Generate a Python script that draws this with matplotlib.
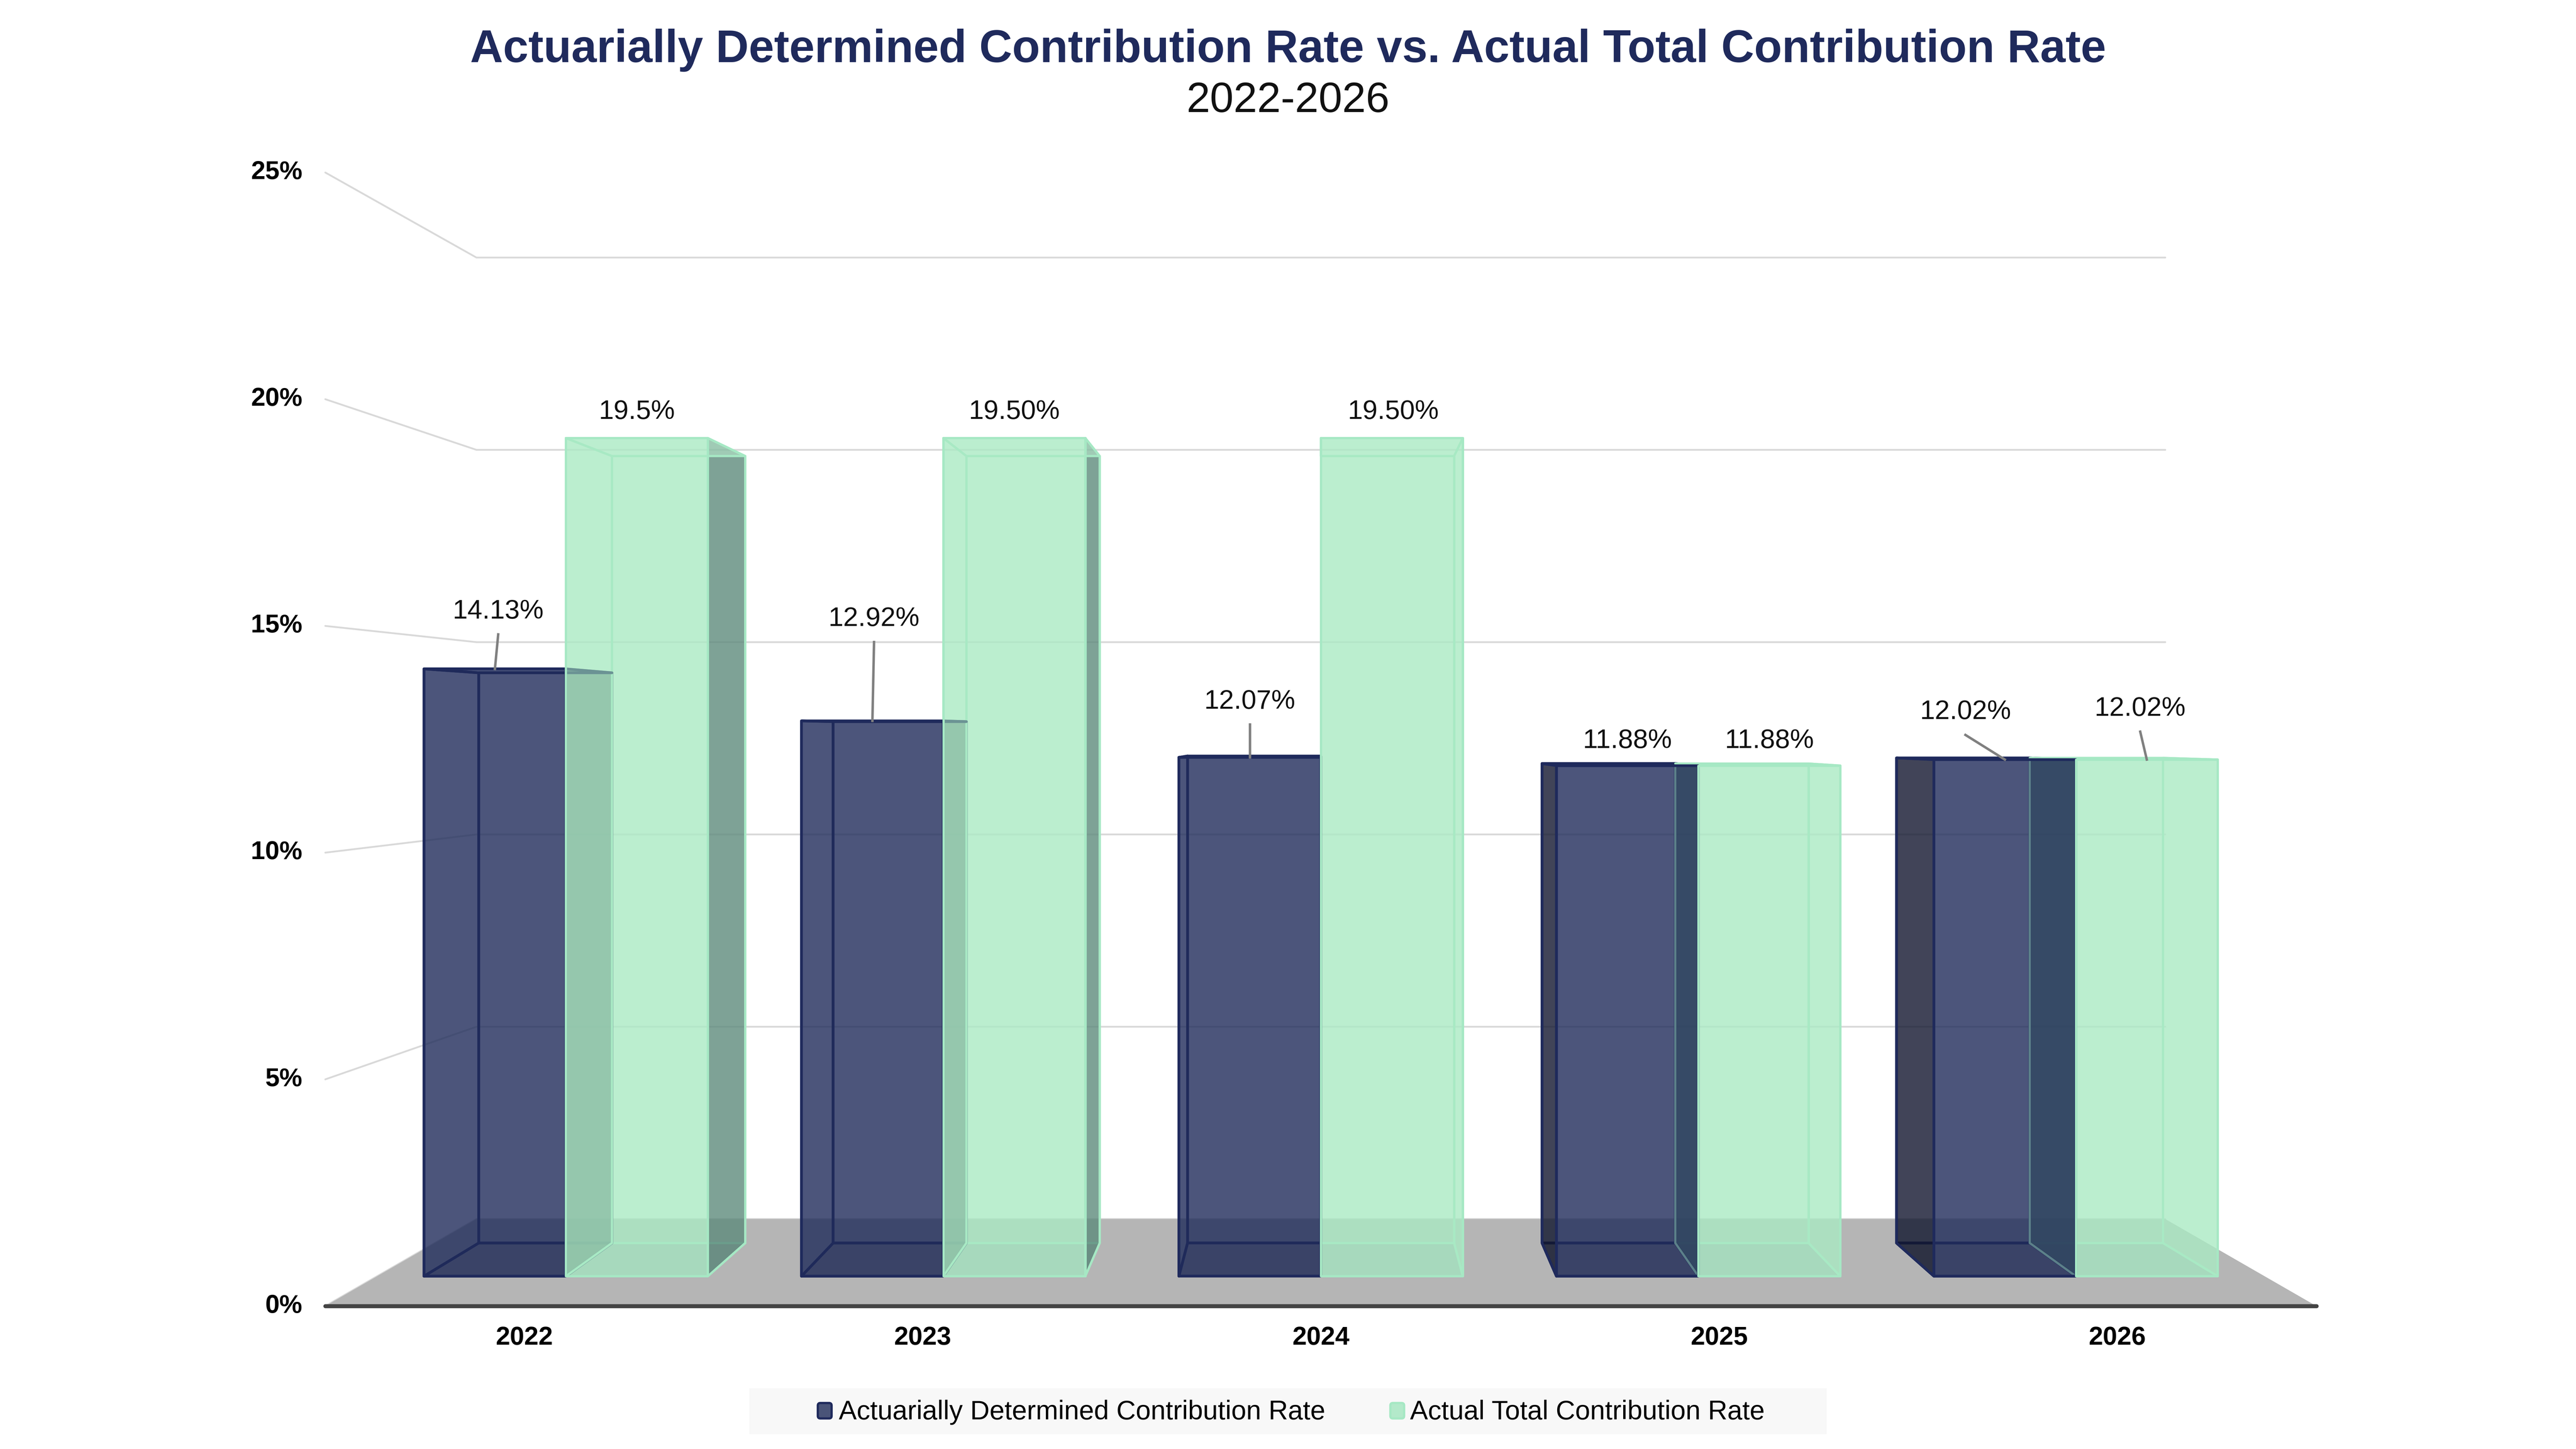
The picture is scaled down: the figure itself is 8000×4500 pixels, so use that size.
import matplotlib
matplotlib.use("Agg")
import matplotlib.pyplot as plt
from matplotlib.patches import Polygon, Rectangle, FancyBboxPatch

plt.rcParams['font.family'] = ['Liberation Sans', 'DejaVu Sans']

# ---- data ----
years = ["2022", "2023", "2024", "2025", "2026"]
adc_rate = [14.13, 12.92, 12.07, 11.88, 12.02]
actual_rate = [19.50, 19.50, 19.50, 11.88, 12.02]
adc_text = ["14.13%", "12.92%", "12.07%", "11.88%", "12.02%"]
actual_text = ["19.5%", "19.50%", "19.50%", "11.88%", "12.02%"]
y_ticks = [0, 5, 10, 15, 20, 25]
series_names = ["Actuarially Determined Contribution Rate", "Actual Total Contribution Rate"]

# ---- layout: canvas units 1568 x 882, y grows downwards ----
W, H = 1568, 882
LEFT, RIGHT, FLOOR = 198, 1410, 795
PX_PER_PCT = 27.6
VANISH = (804, 446)
DEPTH_K = 0.179          # perspective shrink per unit depth
Z_FRONT, Z_BACK = 0.307, 0.69
BAR_W = 0.376            # in category units
ALPHA = 0.55

# label nudges (dx, dy) from the bar's front-top centre
adc_nudge = [(2, -35), (1, -62), (0, -34), (0, -15), (-24, -29)]
actual_nudge = [(0, -16), (0, -16), (1, -16), (0, -15), (-4, -31)]

# face colours per series (rgb 0-255)
STYLE = [
    dict(base=(31, 43, 90), side=(10, 12, 26), bottom=(17, 28, 70), edge="#1f2a5c",
         legend_fill="#4a5478", lw=1.2),
    dict(base=(171, 234, 196), side=(60, 96, 92), bottom=(151, 213, 184), edge="#a6e8c4",
         legend_fill="#b3e9ca", lw=1.0),
]


def rgba(c, a=ALPHA):
    return (c[0] / 255, c[1] / 255, c[2] / 255, a)


def project(c, v, z):
    # category position c, value v (%), depth z (0 front .. 1 back) -> canvas
    xf = LEFT + (c + 0.5) * (RIGHT - LEFT) / len(years)
    yf = FLOOR - v * PX_PER_PCT
    s = 1.0 / (1.0 + DEPTH_K * z)
    return (VANISH[0] + s * (xf - VANISH[0]), VANISH[1] + s * (yf - VANISH[1]))


fig = plt.figure(figsize=(16, 9), dpi=500)
ax = fig.add_axes([0, 0, 1, 1])
ax.set_xlim(0, W)
ax.set_ylim(H, 0)
ax.axis("off")

n = len(years)

# ---- walls: gridlines on side wall and back wall ----
for t in y_ticks:
    p0 = project(-0.5, t, 0)
    p1 = project(-0.5, t, 1)
    p2 = project(n - 0.5, t, 1)
    ax.plot([p0[0], p1[0], p2[0]], [p0[1], p1[1], p2[1]], color="#d9d9d9", lw=0.8,
            zorder=1, solid_capstyle="round")
    ax.text(LEFT - 14, p0[1], f"{t}%", ha="right", va="center", fontsize=11.5,
            fontweight="bold", color="#000000")

# ---- floor ----
floor = [project(-0.5, 0, 0), project(n - 0.5, 0, 0), project(n - 0.5, 0, 1), project(-0.5, 0, 1)]
ax.add_patch(Polygon(floor, closed=True, fc="#b5b5b5", ec="none", zorder=2))
ax.plot([floor[0][0], floor[1][0]], [floor[0][1], floor[1][1]], color="#444444", lw=1.8,
        solid_capstyle="round", zorder=3)

for i, yr in enumerate(years):
    x, y = project(i, 0, 0)
    ax.text(x, 814.5, yr, ha="center", va="center", fontsize=11.5, fontweight="bold")

# ---- 3d columns ----
groups = {"back": [], "bottom": [], "side": [], "top": [], "front": []}
series_vals = [adc_rate, actual_rate]
for s, vals in enumerate(series_vals):
    st = STYLE[s]
    for i, v in enumerate(vals):
        x0 = i - BAR_W + s * BAR_W
        x1 = x0 + BAR_W
        P = project
        groups["back"].append(([P(x0, 0, Z_BACK), P(x1, 0, Z_BACK), P(x1, v, Z_BACK), P(x0, v, Z_BACK)],
                               st["base"], st))
        groups["bottom"].append(([P(x0, 0, Z_FRONT), P(x1, 0, Z_FRONT), P(x1, 0, Z_BACK), P(x0, 0, Z_BACK)],
                                 st["bottom"], st))
        left_vis = P(x0, 0, 0)[0] > VANISH[0] + 1
        right_vis = P(x1, 0, 0)[0] < VANISH[0] - 1
        groups["side"].append(([P(x0, 0, Z_FRONT), P(x0, 0, Z_BACK), P(x0, v, Z_BACK), P(x0, v, Z_FRONT)],
                               st["side"] if left_vis else st["base"], st))
        groups["side"].append(([P(x1, 0, Z_FRONT), P(x1, 0, Z_BACK), P(x1, v, Z_BACK), P(x1, v, Z_FRONT)],
                               st["side"] if right_vis else st["base"], st))
        groups["top"].append(([P(x0, v, Z_FRONT), P(x1, v, Z_FRONT), P(x1, v, Z_BACK), P(x0, v, Z_BACK)],
                              st["base"], st))
        groups["front"].append(([P(x0, 0, Z_FRONT), P(x1, 0, Z_FRONT), P(x1, v, Z_FRONT), P(x0, v, Z_FRONT)],
                                st["base"], st))

for k, name in enumerate(["back", "bottom", "side", "top", "front"]):
    for pts, col, st in groups[name]:
        ax.add_patch(Polygon(pts, closed=True, fc=rgba(col), ec=st["edge"], lw=st["lw"],
                             joinstyle="round", zorder=4 + k))

# ---- data labels ----
texts = [adc_text, actual_text]
nudges = [adc_nudge, actual_nudge]
for s, vals in enumerate(series_vals):
    for i, v in enumerate(vals):
        xc = i - BAR_W / 2 + s * BAR_W
        bx, by = project(xc, v, Z_FRONT)
        dx, dy = nudges[s][i]
        lx, ly = bx + dx, by + dy
        ax.text(lx, ly, texts[s][i], ha="center", va="center", fontsize=12, color="#111111",
                zorder=20)
        if dy < -25:
            ax.plot([lx, bx], [ly + 14, by], color="#808080", lw=1.1, zorder=19)

# ---- title ----
ax.text(784, 37.9, "Actuarially Determined Contribution Rate vs. Actual Total Contribution Rate",
        ha="center", va="baseline", fontsize=20.4, fontweight="bold", color="#1f2a5c")
ax.text(784, 68.3, "2022-2026", ha="center", va="baseline", fontsize=19, color="#111111")

# ---- legend ----
ax.add_patch(Rectangle((456, 845), 656, 28, fc="#f8f8f8", ec="none", zorder=2))
for s, (mx, tx) in enumerate([(497.8, 510.5), (846.3, 858.2)]):
    ax.add_patch(FancyBboxPatch((mx, 854), 8.4, 9.4, boxstyle="round,pad=0,rounding_size=1.5",
                                fc=STYLE[s]["legend_fill"], ec=STYLE[s]["edge"], lw=1.0, zorder=3))
    ax.text(tx, 864, series_names[s], ha="left", va="baseline", fontsize=12, color="#000000",
            zorder=3)

fig.savefig("out.png", dpi=500, facecolor="white")
